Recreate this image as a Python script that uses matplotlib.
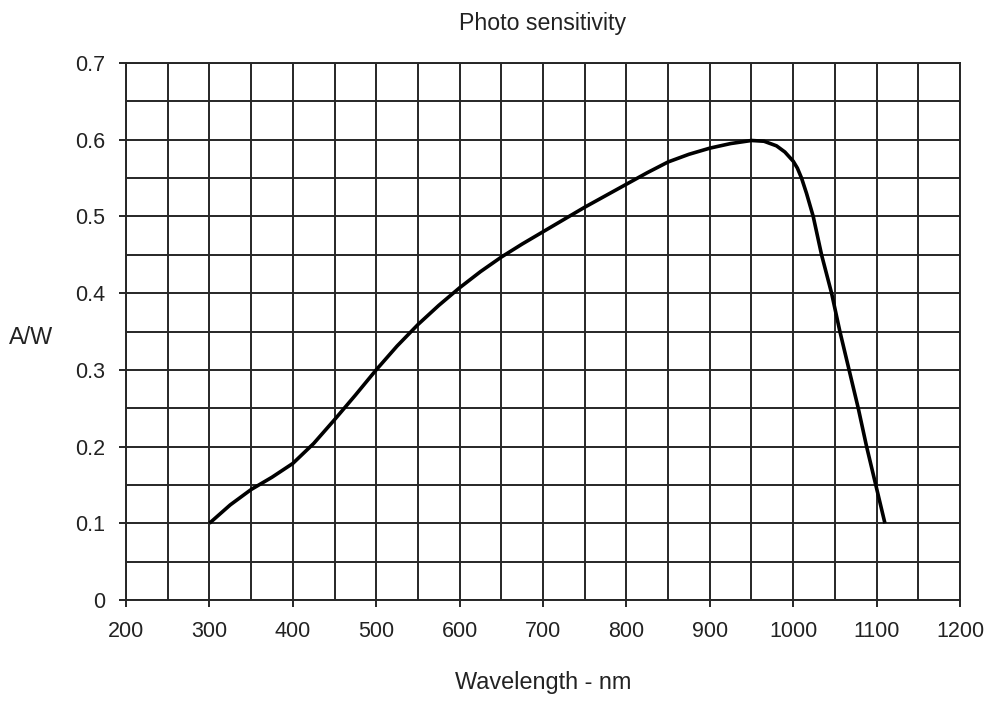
import matplotlib
matplotlib.use("Agg")
import matplotlib.pyplot as plt
import numpy as np

wavelength_nm = [300, 325, 350, 375, 400, 425, 450, 475, 500, 525, 550, 575, 600,
                 625, 650, 675, 700, 750, 800, 825, 850, 875, 900, 925, 950, 965, 980,
                 990, 1000, 1005, 1010, 1016, 1024, 1034, 1046, 1056, 1067, 1078,
                 1088, 1099, 1110]
sensitivity_aw = [0.100, 0.124, 0.144, 0.160, 0.178, 0.204, 0.235, 0.267, 0.300, 0.331,
                  0.359, 0.384, 0.407, 0.428, 0.447, 0.464, 0.480, 0.512, 0.542, 0.557,
                  0.571, 0.581, 0.589, 0.595, 0.599, 0.598, 0.592, 0.584, 0.572, 0.563,
                  0.550, 0.530, 0.500, 0.450, 0.400, 0.350, 0.300, 0.250, 0.200, 0.150,
                  0.100]
x_ticks = [200, 300, 400, 500, 600, 700, 800, 900, 1000, 1100, 1200]
y_ticks = [0, 0.1, 0.2, 0.3, 0.4, 0.5, 0.6, 0.7]
y_tick_labels = ["0", "0.1", "0.2", "0.3", "0.4", "0.5", "0.6", "0.7"]

FONT = ['Liberation Sans Narrow', 'Liberation Sans', 'DejaVu Sans']
plt.rcParams['font.family'] = FONT

W, H = 995, 701
fig = plt.figure(figsize=(W / 100, H / 100), dpi=100)
ax = fig.add_axes([126 / W, 1 - 600 / H, (960 - 126) / W, (600 - 63) / H])

ax.set_xlim(200, 1200)
ax.set_ylim(0, 0.7)

grid_color = '#262626'
for gx in np.arange(200, 1201, 50):
    ax.axvline(gx, color=grid_color, lw=1.4, zorder=1)
for gy in np.arange(0, 0.7001, 0.05):
    ax.axhline(gy, color=grid_color, lw=1.4, zorder=1)

ax.plot(wavelength_nm, sensitivity_aw, color='black', lw=2.6, zorder=3,
        solid_joinstyle='round', solid_capstyle='butt')

for s in ax.spines.values():
    s.set_color(grid_color)
    s.set_linewidth(1.4)

ax.set_xticks(x_ticks)
ax.set_xticklabels([str(v) for v in x_ticks])
ax.set_yticks(y_ticks)
ax.set_yticklabels(y_tick_labels)
ax.tick_params(axis='both', direction='out', length=5, width=1.4, color=grid_color,
               labelsize=15.5, labelcolor='#222222', pad=10)

fig.text(543 / W, 1 - 30 / H, "Photo sensitivity", ha='center', va='baseline',
         fontsize=16.7, color='#222222')
fig.text(543 / W, 1 - 689 / H, "Wavelength - nm", ha='center', va='baseline',
         fontsize=16.9, color='#222222')
fig.text(31 / W, 1 - 338 / H, "A/W", ha='center', va='center',
         fontsize=16.8, color='#222222')

fig.savefig("out.png", dpi=100, facecolor='white')
